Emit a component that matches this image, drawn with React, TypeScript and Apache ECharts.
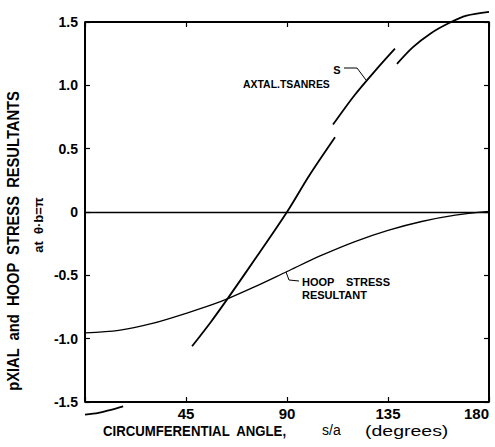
import React, { useEffect, useRef } from "react";
import * as echarts from "echarts";

// Axial stress resultant, drawn in pieces as in the scanned figure
const axialSeg1: [number, number][] = [[0, -1.6], [6, -1.585], [12, -1.56], [17, -1.535]];
const axialSeg2: [number, number][] = [[47.7, -1.06], [56, -0.87], [63.7, -0.68], [77, -0.34], [90, 0], [100, 0.29], [111.4, 0.59]];
const axialSeg3: [number, number][] = [[110.5, 0.69], [120, 0.92], [130, 1.13], [138.1, 1.29]];
const axialSeg4: [number, number][] = [[139, 1.17], [146, 1.3], [154, 1.41], [162, 1.49], [170, 1.55], [180, 1.58]];

// Hoop stress resultant
const hoop: [number, number][] = [
  [0, -0.955], [15, -0.935], [30, -0.88], [45, -0.8], [60, -0.71],
  [75, -0.595], [90, -0.47], [105, -0.345], [120, -0.235], [135, -0.145],
  [150, -0.075], [165, -0.025], [180, 0.005],
];

const xTickValues = [0, 45, 90, 135, 180];
const xTickLabels = ["", "45", "90", "135", "180"];
const yTickValues = [-1.5, -1, -0.5, 0, 0.5, 1, 1.5];
const yTickLabels = ["-1.5", "-1.0", "-0.5", "0", "0.5", "1.0", "1.5"];

const INK = "#000";
const FONT = '"Liberation Sans", Arial, sans-serif';

export default function App() {
  const ref = useRef<HTMLDivElement>(null);
  useEffect(() => {
    if (!ref.current) return;
    const chart = echarts.init(ref.current, undefined, { renderer: "svg" });
    const lineSeries = (data: [number, number][], width: number) => ({
      type: "line",
      data,
      showSymbol: false,
      symbol: "none",
      smooth: 0.3,
      clip: false,
      lineStyle: { color: INK, width },
      silent: true,
    });
    const mkAxis = () => ({
      type: "value",
      axisLine: { show: true, onZero: false, lineStyle: { color: INK, width: 1.5 } },
      axisTick: { show: true, inside: true, length: 5, lineStyle: { color: INK, width: 1.2 } },
      splitLine: { show: false },
    });
    const xFmt = (v: number) => {
      const i = xTickValues.indexOf(Math.round(v));
      return i >= 0 ? xTickLabels[i] : "";
    };
    const yFmt = (v: number) => {
      const i = yTickValues.indexOf(Math.round(v * 10) / 10);
      return i >= 0 ? yTickLabels[i] : "";
    };
    const text = (
      t: string,
      x: number,
      y: number,
      font: string,
      align: string = "left",
      extra: any = {}
    ) => ({
      type: "text",
      x,
      y,
      silent: true,
      ...extra,
      style: { text: t, font, fill: INK, textAlign: align, textVerticalAlign: "middle" },
    });
    const frameStyle = { color: INK, width: 2, type: "solid" };
    chart.setOption({
      animation: false,
      backgroundColor: "#ffffff",
      grid: {
        left: 85,
        right: 6,
        top: 22,
        bottom: 45,
        containLabel: false,
        outerBoundsMode: "none",
      },
      xAxis: [
        {
          ...mkAxis(),
          min: 0,
          max: 180,
          interval: 45,
          position: "bottom",
          axisLabel: {
            show: true,
            formatter: xFmt,
            color: INK,
            fontFamily: FONT,
            fontWeight: "bold",
            fontSize: 15,
            margin: 4,
            alignMaxLabel: "right",
          },
        },
        {
          ...mkAxis(),
          min: 0,
          max: 180,
          interval: 45,
          position: "top",
          axisLabel: { show: false },
        },
      ],
      yAxis: [
        {
          ...mkAxis(),
          min: -1.5,
          max: 1.5,
          interval: 0.5,
          position: "left",
          axisLabel: {
            show: true,
            formatter: yFmt,
            color: INK,
            fontFamily: FONT,
            fontWeight: "bold",
            fontSize: 14,
            margin: 7,
          },
        },
        {
          ...mkAxis(),
          min: -1.5,
          max: 1.5,
          interval: 0.5,
          position: "right",
          axisLabel: { show: false },
        },
      ],
      series: [
        {
          ...lineSeries(hoop, 1.3),
          markLine: {
            silent: true,
            symbol: "none",
            label: { show: false },
            lineStyle: { color: INK, width: 1.3, type: "solid" },
            data: [
              { yAxis: 0 },
              { yAxis: 1.5, lineStyle: frameStyle },
              { yAxis: -1.5, lineStyle: frameStyle },
              { xAxis: 0, lineStyle: frameStyle },
              { xAxis: 180, lineStyle: frameStyle },
            ],
          },
        },
        lineSeries(axialSeg1, 1.8),
        lineSeries(axialSeg2, 1.8),
        lineSeries(axialSeg3, 1.8),
        lineSeries(axialSeg4, 1.8),
      ],
      graphic: [
        // y-axis title (two rotated lines)
        text("pXIAL  and  HOOP  STRESS  RESULTANTS", 13, 241, `bold 16px ${FONT}`, "center", {
          rotation: Math.PI / 2,
          scaleX: 0.92,
        }),
        text("at  θ·b=π", 38, 225, `bold 13px ${FONT}`, "center", { rotation: Math.PI / 2 }),
        // x-axis title
        text("CIRCUMFERENTIAL  ANGLE,", 103, 431, `bold 15px ${FONT}`, "left", { scaleX: 0.88 }),
        text("s/a", 322, 430, `14px ${FONT}`, "left"),
        text("(degrees)", 365, 431, `15px ${FONT}`, "left", { scaleX: 1.3 }),
        // curve labels
        text("AXTAL.TSANRES", 243, 84, `bold 11px ${FONT}`, "left", { scaleX: 0.95 }),
        text("S", 337, 70, `bold 11px ${FONT}`, "center"),
        text("HOOP", 302, 282, `bold 11px ${FONT}`, "left"),
        text("STRESS", 346, 282, `bold 11px ${FONT}`, "left"),
        text("RESULTANT", 302, 295, `bold 11px ${FONT}`, "left"),
        // leader lines
        {
          type: "polyline",
          silent: true,
          shape: { points: [[344, 68], [357, 68], [366, 80]] },
          style: { stroke: INK, lineWidth: 1, fill: "none" },
        },
        {
          type: "polyline",
          silent: true,
          shape: { points: [[286, 272], [289, 280], [299, 281]] },
          style: { stroke: INK, lineWidth: 1, fill: "none" },
        },
      ],
    });
    return () => chart.dispose();
  }, []);
  return (
    <div
      ref={ref}
      style={{ position: "absolute", left: 0, top: 0, width: 495, height: 447 }}
    />
  );
}
